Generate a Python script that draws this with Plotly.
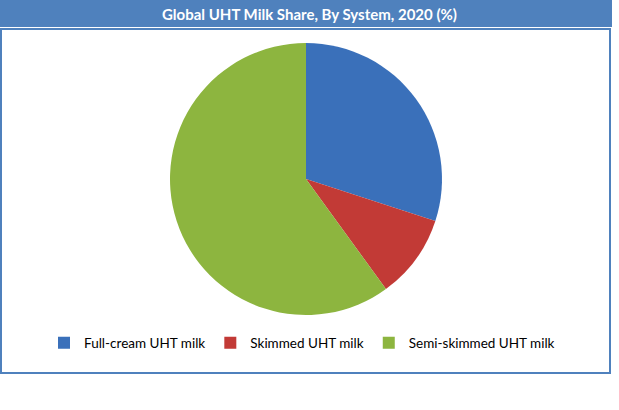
import plotly.graph_objects as go

W, H = 619, 410

# shares (%)
systems = ["Full-cream UHT milk", "Skimmed UHT milk", "Semi-skimmed UHT milk"]
shares = [30, 10, 60]
colors = ["#3A70BA", "#C23A36", "#8DB53F"]

title = "Global UHT Milk Share, By System, 2020 (%)"


def px_x(v):
    return v / W


def px_y(v):
    return 1 - v / H


fig = go.Figure(go.Pie(
    labels=systems,
    values=shares,
    sort=False,
    direction="clockwise",
    rotation=0,
    textinfo="none",
    hoverinfo="label+percent",
    marker=dict(colors=colors, line=dict(width=0)),
    domain=dict(x=[px_x(169), px_x(443)], y=[px_y(315), px_y(43)]),
))

shapes = [
    # title bar
    dict(type="rect", xref="paper", yref="paper",
         x0=0, x1=px_x(612), y0=px_y(27), y1=1,
         fillcolor="#4F81BD", line=dict(width=0), layer="below"),
    # chart frame
    dict(type="rect", xref="paper", yref="paper",
         x0=px_x(1), x1=px_x(610), y0=px_y(373), y1=px_y(29),
         fillcolor="white", line=dict(color="#4F81BD", width=2), layer="below"),
]

fig.update_layout(
    width=W, height=H,
    margin=dict(l=0, r=0, t=0, b=0),
    paper_bgcolor="white",
    font=dict(family="Lato", size=13.5, color="black"),
    shapes=shapes,
    annotations=[dict(
        text="<b>" + title + "</b>", xref="paper", yref="paper",
        x=px_x(309), y=px_y(14), xanchor="center", yanchor="middle",
        showarrow=False, font=dict(family="Lato", size=15, color="white"),
    )],
    legend=dict(orientation="h", x=px_x(44), y=px_y(343),
                xanchor="left", yanchor="middle",
                bgcolor="rgba(0,0,0,0)", font=dict(size=13.5)),
)

# drop the browser's default page margin so the figure sits at the top-left corner
fig.write_html("out.html", config={"displayModeBar": False},
               post_script="document.body.style.margin='0';")
